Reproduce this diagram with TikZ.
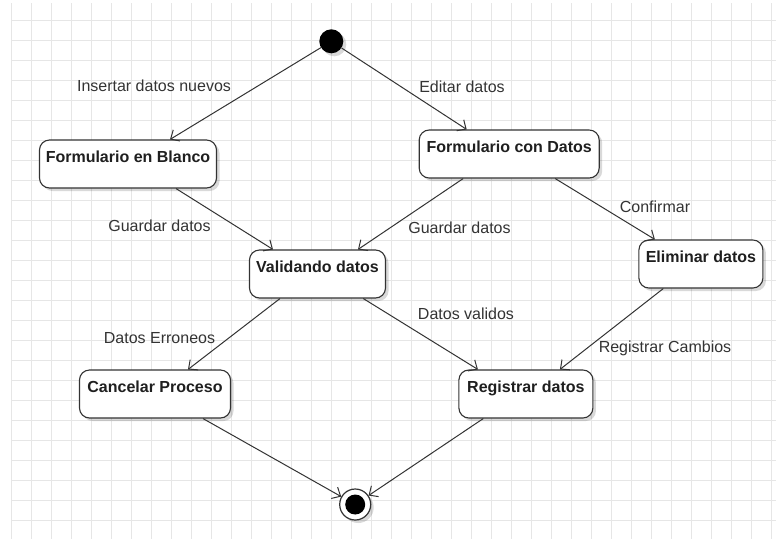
\documentclass[tikz,border=0pt]{standalone}
\usepackage{fontspec}
\setmainfont{Liberation Sans}
\usetikzlibrary{arrows.meta,shadows}
\definecolor{gridc}{HTML}{E6E6E6}
\definecolor{linec}{HTML}{333333}
\definecolor{txt}{HTML}{333333}
\begin{document}
\begin{tikzpicture}[x=1pt,y=-1pt,
  sh/.style={drop shadow={shadow xshift=3pt,shadow yshift=-3pt,opacity=0.15,fill=black}},
  state/.style={draw=linec, line width=1.1pt, fill=white, rounded corners=10pt,
    inner xsep=0pt, inner ysep=0pt, text height=22pt, text depth=26pt,
    font=\fontsize{16}{19}\selectfont\bfseries, text=black!88, sh},
  lbl/.style={font=\fontsize{16}{19}\selectfont, text=txt, inner sep=0pt},
  tr/.style={draw=linec, line width=1pt, -{Straight Barb[length=7pt,width=13pt]}}
]
\useasboundingbox (0,0) rectangle (776,539);
\fill[white] (0,0) rectangle (776,539);
\foreach \x in {11,31,...,771} \draw[gridc, line width=0.8pt] (\x,3) -- (\x,539);
\foreach \y in {20.7,40.7,...,530.7} \draw[gridc, line width=0.8pt] (11,\y) -- (776,\y);

% states
\node[state, minimum width=177pt] (fb) at (128,164) {Formulario en Blanco};
\node[state, minimum width=180pt] (fcd) at (509.2,154) {Formulario con Datos};
\node[state, minimum width=124pt] (elim) at (700.9,264) {Eliminar datos};
\node[state, minimum width=136pt] (val) at (317.5,274) {Validando datos};
\node[state, minimum width=151pt] (canc) at (155,394) {Cancelar Proceso};
\node[state, minimum width=134pt] (reg) at (525.9,394) {Registrar datos};

% initial and final
\node[circle, fill=black, minimum size=24pt, inner sep=0pt, sh] (init) at (331.3,41.3) {};
\node[circle, draw=linec, line width=1.2pt, fill=white, minimum size=31pt, inner sep=0pt, sh] (fin) at (355.2,504.5) {};
\node[circle, fill=black, minimum size=20pt, inner sep=0pt] (finin) at (fin.center) {};

% transitions
\draw[tr] (init) -- ([xshift=42pt]fb.north);
\draw[tr] (init) -- ([xshift=-42.5pt]fcd.north);
\draw[tr] ([xshift=48pt]fb.south) -- ([xshift=-44.5pt]val.north);
\draw[tr] ([xshift=-46pt]fcd.south) -- ([xshift=40.5pt]val.north);
\draw[tr] ([xshift=46pt]fcd.south) -- ([xshift=-46pt]elim.north);
\draw[tr] ([xshift=-37.5pt]val.south) -- ([xshift=33pt]canc.north);
\draw[tr] ([xshift=45.8pt]val.south) -- ([xshift=-48pt]reg.north);
\draw[tr] ([xshift=-37.6pt]elim.south) -- ([xshift=34pt]reg.north);
\draw[tr] ([xshift=48pt]canc.south) -- (fin);
\draw[tr] ([xshift=-42.6pt]reg.south) -- (fin);

% labels
\node[lbl] (l1) at (154,86) {Insertar datos nuevos};
\node[lbl] (l2) at (462,86.7) {Editar datos};
\node[lbl] (l3) at (159.5,225.7) {Guardar datos};
\node[lbl] (l4) at (459.5,228) {Guardar datos};
\node[lbl] (l5) at (655,207) {Confirmar};
\node[lbl] (l6) at (159.5,338) {Datos Erroneos};
\node[lbl] (l7) at (466,314) {Datos validos};
\node[lbl] (l8) at (665,348) {Registrar Cambios};
\end{tikzpicture}
\end{document}
